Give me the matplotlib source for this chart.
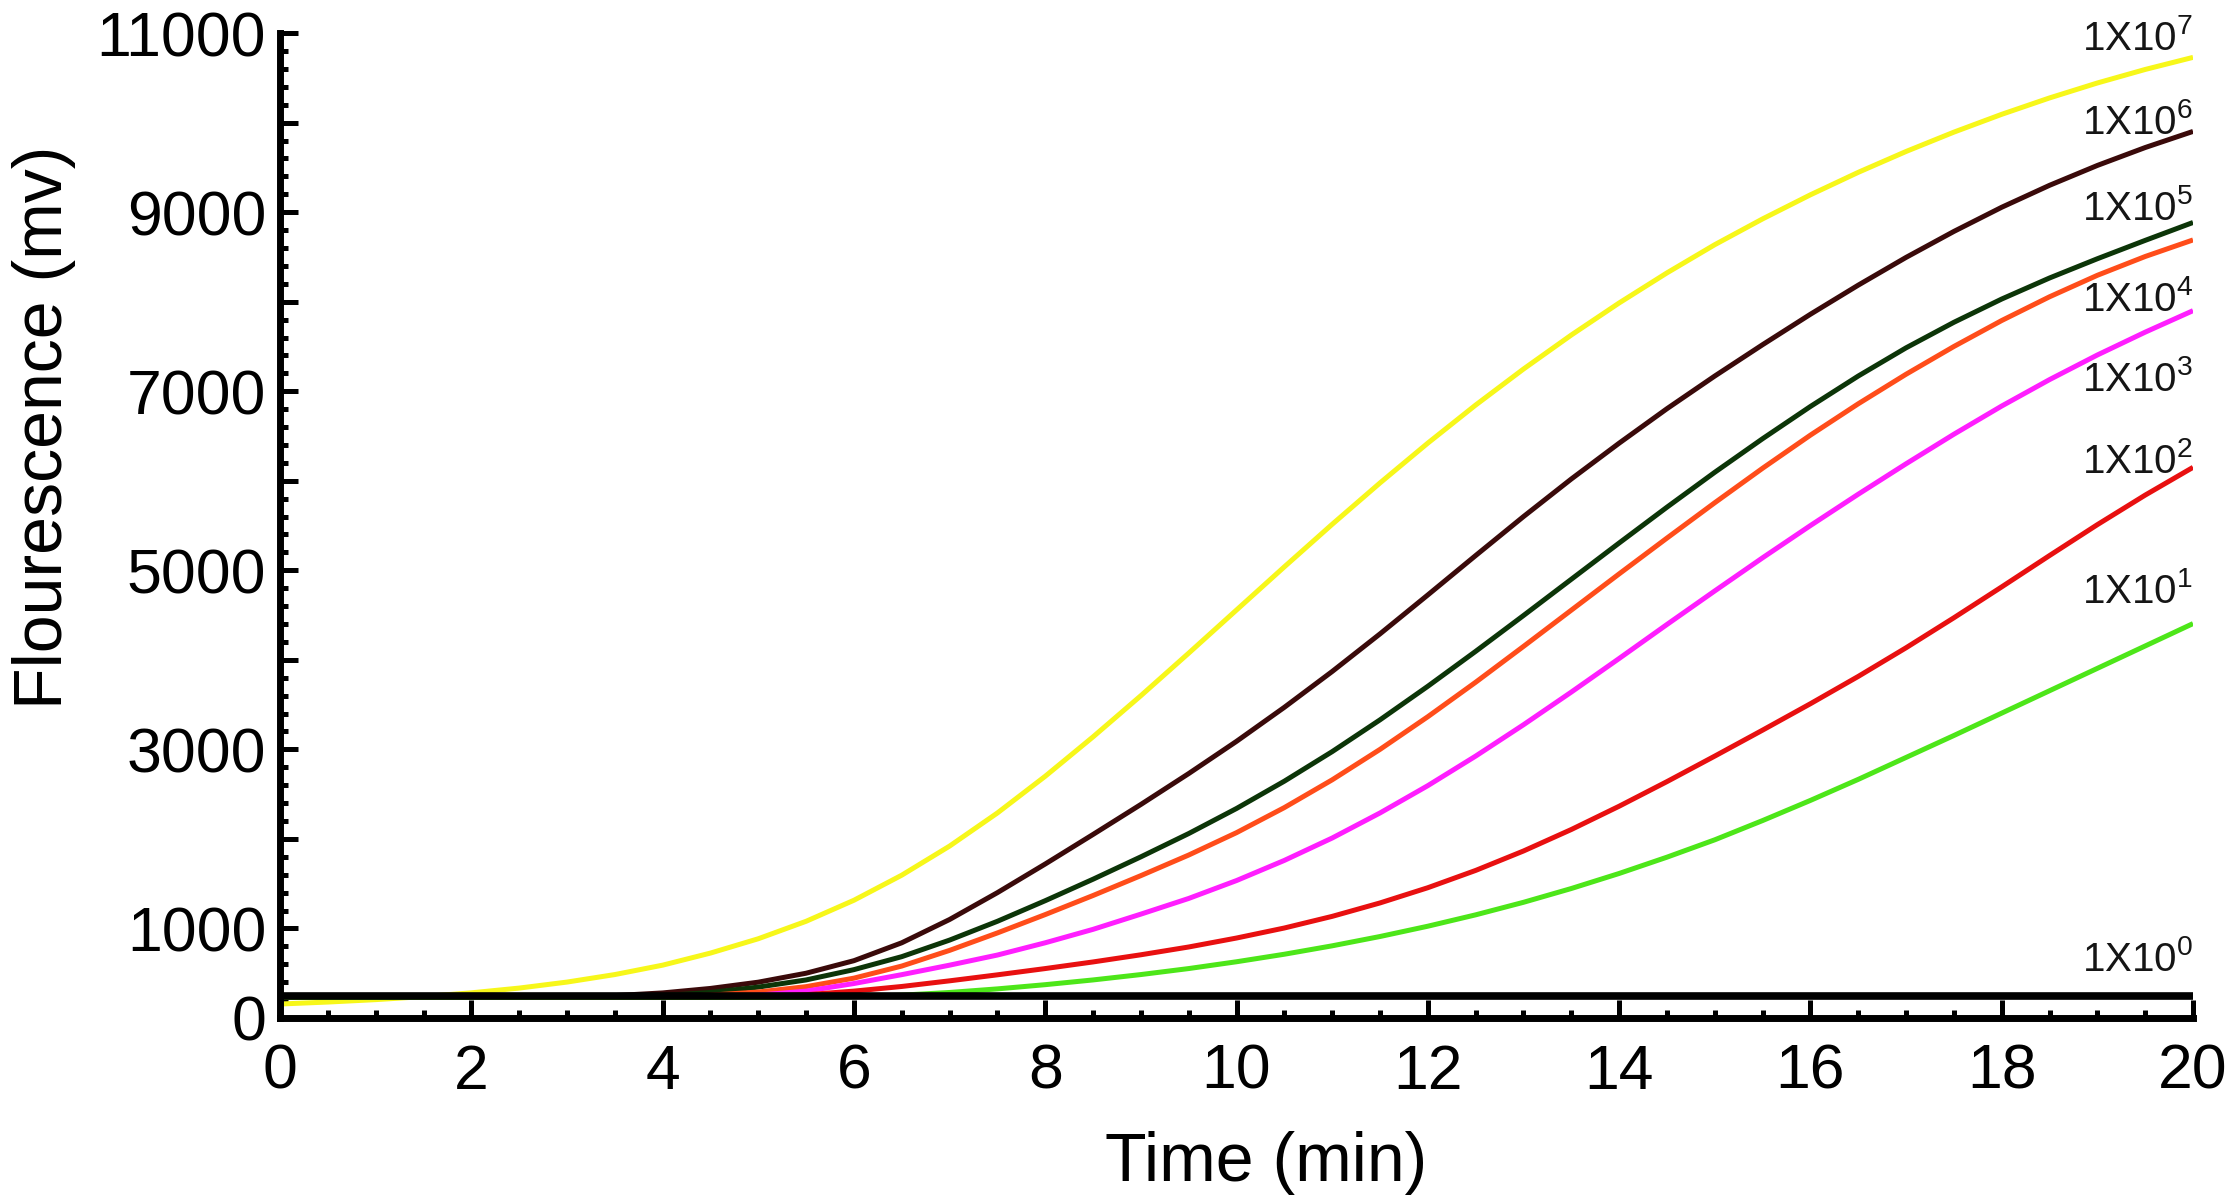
import numpy as np
import matplotlib
matplotlib.use("Agg")
import matplotlib.pyplot as plt
from matplotlib.ticker import MultipleLocator

plt.rcParams['font.family'] = ['Liberation Sans', 'DejaVu Sans']
plt.rcParams['mathtext.default'] = 'regular'

# data (time in min, fluorescence in mv), every 0.5 min
time = [0, 0.5, 1, 1.5, 2, 2.5, 3, 3.5, 4, 4.5, 5, 5.5, 6, 6.5, 7, 7.5, 8, 8.5, 9, 9.5,
        10, 10.5, 11, 11.5, 12, 12.5, 13, 13.5, 14, 14.5, 15, 15.5, 16, 16.5, 17, 17.5,
        18, 18.5, 19, 19.5, 20]

f_1e7 = [156, 178, 205, 239, 281, 334, 401, 485, 590, 725, 885, 1080, 1315, 1595, 1920, 2290, 2700, 3140, 3600, 4075,
         4557, 5039, 5514, 5976, 6421, 6846, 7248, 7628, 7986, 8322, 8637, 8925, 9194, 9445, 9678, 9894,
         10093, 10276, 10443, 10594, 10729]
f_1e6 = [230, 230, 230, 230, 230, 231, 235, 250, 280, 330, 400, 500, 640, 840, 1100, 1400, 1720, 2050, 2385, 2730,
         3090, 3470, 3870, 4290, 4725, 5165, 5600, 6020, 6420, 6805, 7170, 7520, 7860, 8185, 8495, 8785,
         9055, 9300, 9522, 9722, 9902]
f_1e5 = [230, 230, 230, 230, 230, 230, 230, 235, 250, 285, 345, 425, 540, 685, 870, 1080, 1310, 1550, 1800, 2060,
         2340, 2645, 2975, 3330, 3705, 4095, 4495, 4900, 5305, 5705, 6095, 6470, 6830, 7170, 7485, 7770,
         8030, 8265, 8480, 8685, 8885]
f_1e4 = [230, 230, 230, 230, 230, 230, 230, 230, 238, 255, 290, 350, 445, 580, 755, 950, 1155, 1368, 1590, 1820,
         2070, 2350, 2660, 3000, 3365, 3750, 4150, 4555, 4960, 5360, 5755, 6140, 6510, 6860, 7190, 7500,
         7790, 8055, 8295, 8505, 8690]
f_1e3 = [230, 230, 230, 230, 230, 230, 230, 230, 230, 238, 255, 300, 385, 484, 590, 703, 840, 990, 1160, 1335,
         1535, 1760, 2010, 2290, 2595, 2925, 3275, 3640, 4015, 4395, 4770, 5140, 5500, 5850, 6190, 6520,
         6835, 7130, 7405, 7660, 7900]
f_1e2 = [230, 230, 230, 230, 230, 230, 230, 230, 230, 232, 240, 260, 300, 352, 415, 482, 552, 626, 706, 793,
         893, 1005, 1135, 1285, 1455, 1648, 1865, 2105, 2365, 2640, 2925, 3215, 3510, 3815, 4135, 4470,
         4815, 5165, 5510, 5840, 6150]
f_1e1 = [230, 230, 230, 230, 230, 230, 230, 230, 230, 230, 230, 230, 238, 255, 285, 325, 372, 425, 485, 552,
         628, 712, 806, 910, 1025, 1152, 1292, 1446, 1614, 1796, 1990, 2205, 2430, 2665, 2910, 3155,
         3405, 3655, 3905, 4155, 4405]
f_1e0 = [250] * len(time)

series = [f_1e7, f_1e6, f_1e5, f_1e4, f_1e3, f_1e2, f_1e1, f_1e0]
colors = ['#f7f71a', '#3a0a0a', '#0c3508', '#ff4d1a', '#ff1eff', '#e81010', '#4de619', '#000000']
labels = ['1X10$^{7}$', '1X10$^{6}$', '1X10$^{5}$', '1X10$^{4}$',
          '1X10$^{3}$', '1X10$^{2}$', '1X10$^{1}$', '1X10$^{0}$']
label_y = [10816, 9877, 8916, 7900, 7006, 6089, 4637, 525]

y_ticks = [0, 1000, 3000, 5000, 7000, 9000, 11000]

fig = plt.figure(figsize=(22.28, 12.04), dpi=100)
ax = fig.add_axes([0.1257, 0.1545, 0.8586, 0.818])

for y, c in zip(series, colors):
    lw = 5.5 if c == '#000000' else 3.6
    ax.plot(time, y, color=c, lw=lw, solid_capstyle='butt', solid_joinstyle='round')

for lab, ly in zip(labels, label_y):
    ax.text(20, ly, lab, ha='right', va='baseline', fontsize=29, color='#151515')

ax.set_xlim(0, 20)
ax.set_ylim(0, 11000)
ax.xaxis.set_major_locator(MultipleLocator(2))
ax.xaxis.set_minor_locator(MultipleLocator(0.5))
ax.yaxis.set_minor_locator(MultipleLocator(200))
ax.set_yticks(np.arange(0, 11001, 1000))
ax.set_yticklabels([str(v) if v in y_ticks else '' for v in range(0, 11001, 1000)])

for s in ['top', 'right']:
    ax.spines[s].set_visible(False)
for s in ['left', 'bottom']:
    ax.spines[s].set_linewidth(5)

ax.tick_params(which='major', direction='in', length=13, width=3.6, labelsize=45)
ax.tick_params(which='minor', direction='in', length=6, width=3.6)
ax.tick_params(axis='y', which='major', pad=10)
ax.tick_params(axis='x', which='major', pad=18)

ax.set_xlabel('Time (min)', fontsize=49)
ax.set_ylabel('Flourescence (mv)', fontsize=49)
ax.xaxis.set_label_coords(0.5155, -0.1145)
ax.yaxis.set_label_coords(-0.1065, 0.60)

fig.savefig('out.png', dpi=100)
